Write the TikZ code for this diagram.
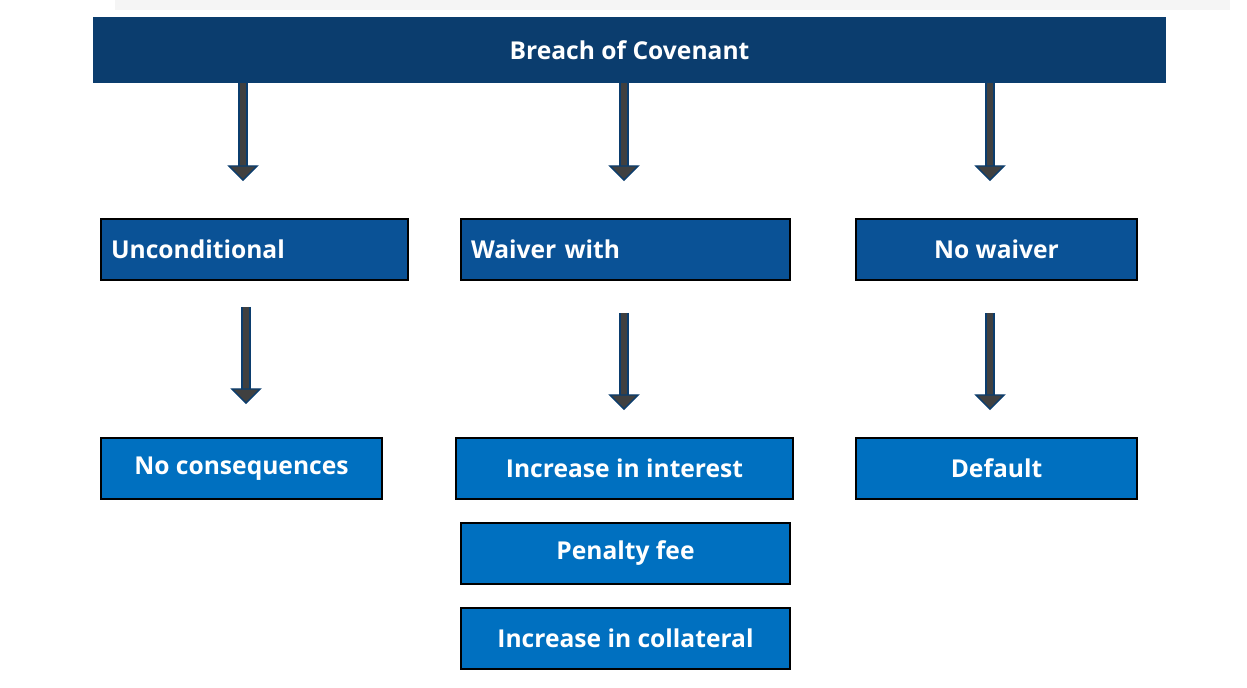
\documentclass[tikz,border=0pt]{standalone}
\usepackage{fontspec}
\setmainfont{Open Sans}
\usetikzlibrary{positioning,arrows.meta}
\definecolor{headCol}{RGB}{11, 61, 110}
\definecolor{midCol}{RGB}{10, 82, 150}
\definecolor{lowCol}{RGB}{0, 112, 192}
\definecolor{shaftCol}{RGB}{64, 64, 64}
\tikzset{myBox/.style={draw=black, line width=0.7pt, text=white, font=\bfseries\fontsize{14}{16}\selectfont, minimum height=1.22cm, inner sep=0pt}}
\tikzset{myMid/.style={myBox, fill=midCol}}
\tikzset{myLow/.style={myBox, fill=lowCol}}
\tikzset{myShaft/.style={line width=6pt, color=headCol}}
\tikzset{myCore/.style={line width=3.6pt, color=shaftCol}}
\tikzset{myHead/.style={fill=shaftCol, draw=headCol, line width=0.8pt}}

\begin{document}
\begin{tikzpicture}[x=0.02cm, y=-0.02cm]
	\useasboundingbox (0,0) rectangle (1247,688);
	\fill[black!4] (115,0) rectangle (1230,10);
	% header
	\node[fill=headCol, text=white, font=\bfseries\fontsize{14}{16}\selectfont, minimum width=21.46cm, minimum height=1.32cm, inner sep=0pt] (head) at (629.5,50) {Breach of Covenant};
	% second row
	\node[myMid, minimum width=6.14cm, text width=5.74cm, align=left] (uncond) at (254.5,249.5) {Unconditional};
	\node[myMid, minimum width=6.58cm, text width=6.18cm, align=left] (waiver) at (625.5,249.5) {Waiver with};
	\node[myMid, minimum width=5.62cm] (nowaiver) at (996.5,249.5) {No waiver};
	% third row
	\node[myLow, minimum width=5.62cm] (noconseq) at (241.5,468.5) {No consequences};
	\node[myLow, minimum width=6.74cm] (interest) at (624.5,468.5) {Increase in interest};
	\node[myLow, minimum width=5.62cm] (default) at (996.5,468.5) {Default};
	\node[myLow, minimum width=6.58cm] (penalty) at (625.5,553.5) {Penalty fee};
	\node[myLow, minimum width=6.58cm] (collateral) at (625.5,638.5) {Increase in collateral};
	% arrows
	\foreach \xa/\ya/\yb in {243/83/166, 624/83/166, 990/83/166, 246/307/389, 624/313/395, 990/313/395}{
		\coordinate (s) at (\xa,\ya);
		\coordinate (e) at (\xa,\yb);
		\draw[myShaft] (s) -- (e);
		\draw[myCore] (s) -- ([yshift=-1]e);
		\filldraw[myHead] ([xshift=-8]e) -- ([xshift=8]e) -- ([yshift=-8]e) -- cycle;
	}
\end{tikzpicture}
\end{document}
